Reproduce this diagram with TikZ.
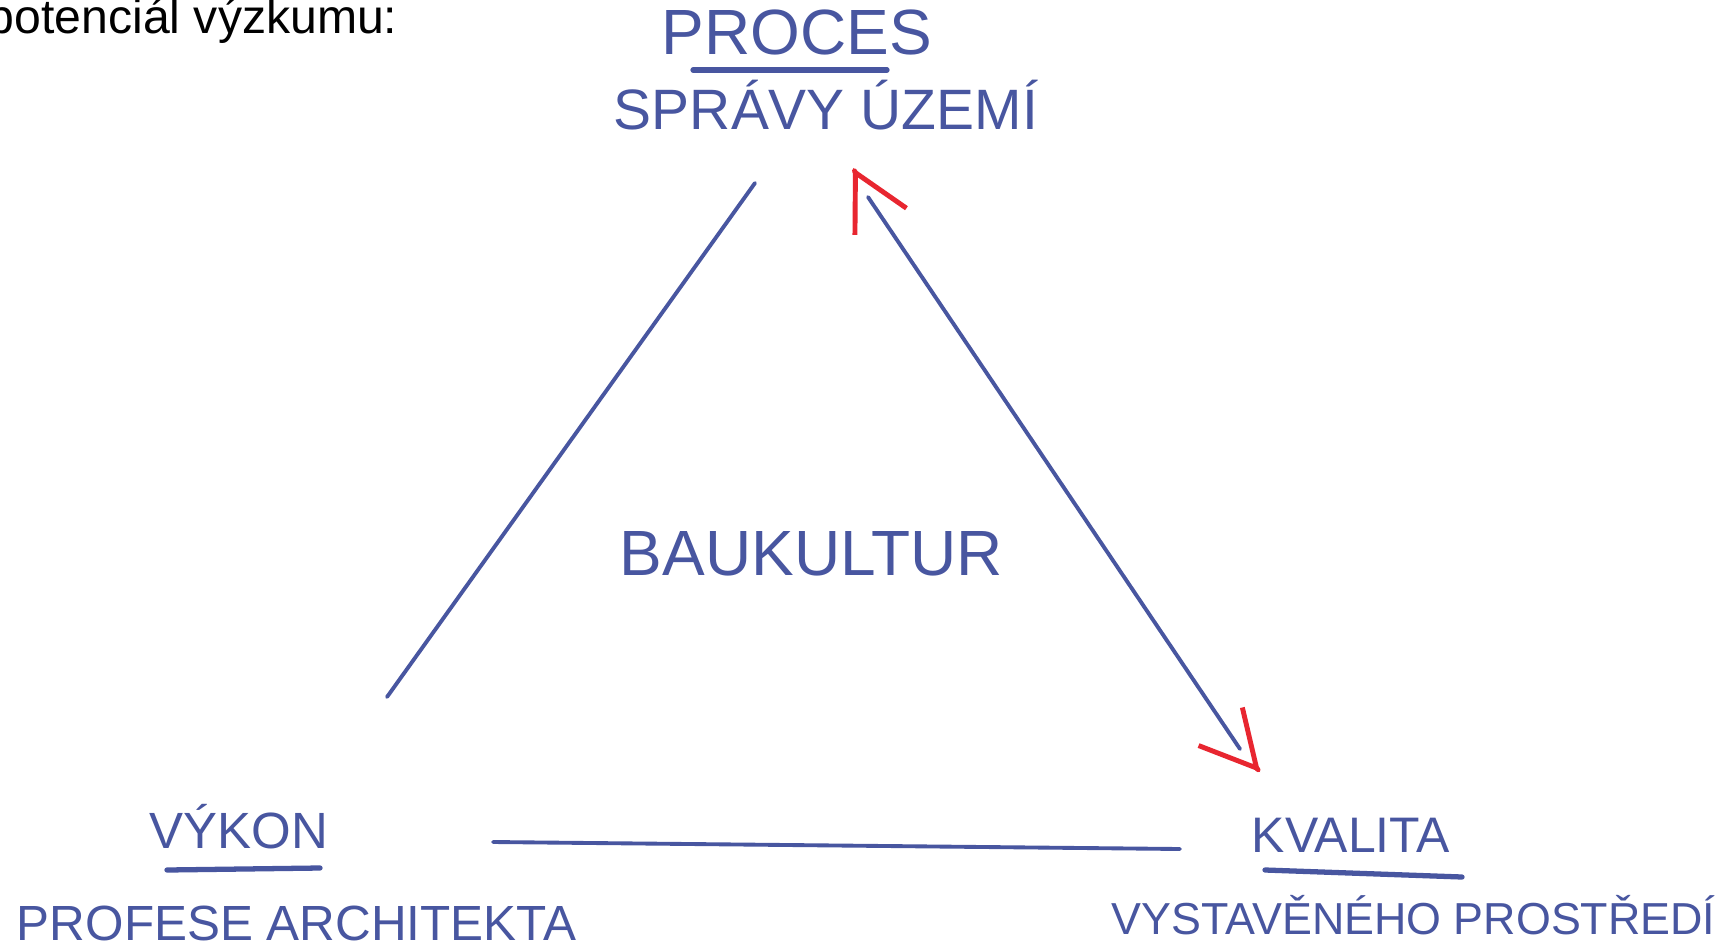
\documentclass[tikz,border=0pt]{standalone}
\usepackage{fontspec}
\setmainfont{Liberation Sans}
\usetikzlibrary{arrows.meta,calc,positioning}
\definecolor{penblue}{RGB}{72,86,160}
\definecolor{penred}{RGB}{232,38,48}

\begin{document}
\begin{tikzpicture}
  [
  line width=1.1pt, line cap=round,
  hand/.style={text=penblue, inner sep=0pt, anchor=base west},
  title/.style={text=black, inner sep=0pt, anchor=base west, font=\fontsize{13.7}{16}\selectfont},
  side/.style={draw=penblue, line width=1.1pt},
  uline/.style={draw=penblue, line width=1.5pt},
  redtip/.style={draw=penred, line width=1.4pt, -{Straight Barb[length=5.5mm,width=5.8mm]}}
  ]

\useasboundingbox[fill=white] (0,0) rectangle (17.27,-9.50);

\node[title] (head) at (-0.14,-0.34) {potenciál výzkumu:};

\node[hand, font=\fontsize{18.2}{20}\selectfont] (proces) at (6.60,-0.55) {PROCES};
\node[hand, font=\fontsize{16.2}{18}\selectfont] (sprava) at (6.12,-1.30) {SPRÁVY ÚZEMÍ};
\node[hand, font=\fontsize{18.2}{20}\selectfont] (baukultur) at (6.18,-5.75) {BAUKULTUR};
\node[hand, font=\fontsize{14.5}{16}\selectfont] (vykon) at (1.48,-8.48) {VÝKON};
\node[hand, font=\fontsize{14.06}{16}\selectfont] (profese) at (0.15,-9.40) {PROFESE ARCHITEKTA};
\node[hand, font=\fontsize{14.2}{16}\selectfont] (kvalita) at (12.50,-8.52) {KVALITA};
\node[hand, font=\fontsize{12.75}{15}\selectfont] (prostredi) at (11.10,-9.34) {VYSTAVĚNÉHO PROSTŘEDÍ};

\draw[uline] (6.93,-0.70) -- (8.87,-0.70);
\draw[uline] (1.67,-8.70) -- (3.20,-8.68);
\draw[uline] (12.65,-8.70) -- (14.62,-8.77);

\coordinate (lt) at (7.55,-1.83);
\coordinate (lb) at (3.87,-6.97);
\coordinate (bl) at (4.93,-8.42);
\coordinate (br) at (11.80,-8.49);
\coordinate (rt) at (8.68,-1.97);
\coordinate (rb) at (12.40,-7.49);
\coordinate (tipt) at (8.53,-1.68);
\coordinate (tipb) at (12.60,-7.72);

\draw[side] (lt) -- (lb);
\draw[side] (bl) -- (br);
\draw[side] (rt) -- (rb);

\draw[redtip] ($(rt)!0.9!(tipt)$) -- (tipt);
\draw[redtip] ($(rb)!0.9!(tipb)$) -- (tipb);
\end{tikzpicture}
\end{document}
